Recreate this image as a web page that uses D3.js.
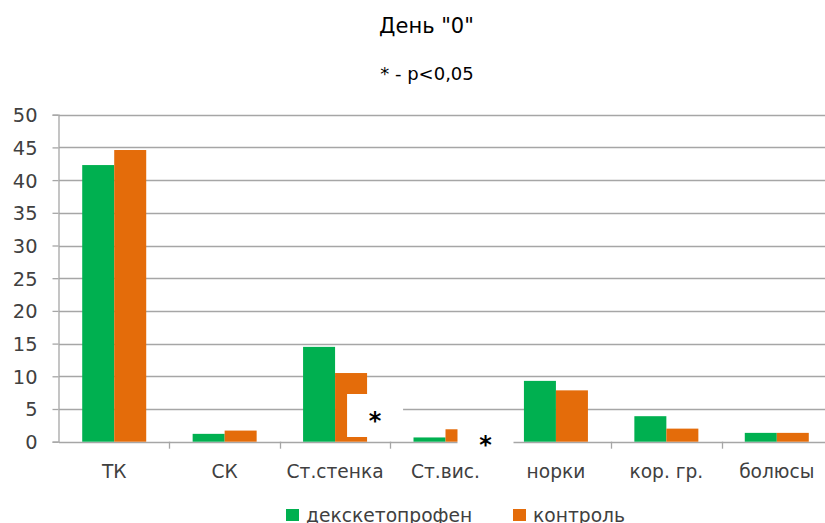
<!DOCTYPE html>
<html>
<head>
<meta charset="utf-8">
<script src="https://cdn.jsdelivr.net/npm/d3@7"></script>
<style>
  html, body { margin: 0; padding: 0; background: #fff; }
  svg { display: block; font-family: "DejaVu Sans", Verdana, sans-serif; }
</style>
</head>
<body>
<svg id="chart" width="825" height="523"></svg>
<script>
// Categories along the x axis
const categories = ["ТК", "СК", "Ст.стенка", "Ст.вис.", "норки", "кор. гр.", "болюсы"];
// Series names and values
const seriesNames = ["декскетопрофен", "контроль"];
const dexketoprofen = [42.3, 1.2, 14.5, 0.65, 9.3, 3.9, 1.35];
const control = [44.6, 1.7, 10.5, 1.9, 7.85, 2.0, 1.35];
const seriesColors = ["#00B050", "#E46C0A"];
// Y axis ticks
const yTicks = [0, 5, 10, 15, 20, 25, 30, 35, 40, 45, 50];
// Significance marks (p<0,05): category and level on the value axis
const sigMarks = [
  { category: "Ст.стенка", level: 3.7 },
  { category: "Ст.вис.", level: 0 }
];

const title = 'День "0"';
const subtitle = "* - p<0,05";

const svg = d3.select("#chart");

const x = d3.scaleBand().domain(categories).range([59, 832]).paddingInner(0).paddingOuter(0);
const y = d3.scaleLinear().domain([0, 50]).range([441.7, 114.7]);
const barW = 32;
const xs = d3.scaleBand().domain(seriesNames).range([0, barW * 2]);
const groupOffset = (x.bandwidth() - barW * 2) / 2;

const gridColor = "#a6a6a6";
const labelColor = "#404040";

// Horizontal gridlines
svg.append("g")
  .selectAll("line")
  .data(yTicks)
  .join("line")
  .attr("x1", 59).attr("x2", 825)
  .attr("y1", d => Math.round(y(d)) + 0.5)
  .attr("y2", d => Math.round(y(d)) + 0.5)
  .attr("stroke", gridColor)
  .attr("stroke-width", 1.3);

// Y axis
const yAxis = svg.append("g")
  .attr("transform", "translate(58.5,0)")
  .call(d3.axisLeft(y).tickValues(yTicks).tickSize(6).tickPadding(15).tickFormat(d3.format("d")));
yAxis.select(".domain").attr("stroke", gridColor).attr("stroke-width", 1.3);
yAxis.selectAll(".tick line").attr("stroke", gridColor).attr("stroke-width", 1.3);
yAxis.selectAll(".tick text")
  .attr("fill", labelColor)
  .attr("dy", "0.36em")
  .style("font-size", "19.4px")
  .style("font-family", "'DejaVu Sans', sans-serif");

// X axis (category labels)
const xAxis = svg.append("g")
  .attr("transform", `translate(0,${Math.round(y(0)) + 0.5})`)
  .call(d3.axisBottom(x).tickSize(0).tickPadding(0));
xAxis.select(".domain").remove();
xAxis.selectAll(".tick text")
  .attr("y", 35)
  .attr("dy", 0)
  .attr("fill", labelColor)
  .style("font-size", "18.6px")
  .style("font-family", "'DejaVu Sans', sans-serif");
// Category separator ticks
svg.append("g")
  .selectAll("line")
  .data(categories.slice(1))
  .join("line")
  .attr("x1", d => Math.round(x(d)) + 0.5)
  .attr("x2", d => Math.round(x(d)) + 0.5)
  .attr("y1", y(0)).attr("y2", y(0) + 7)
  .attr("stroke", gridColor).attr("stroke-width", 1.3);

// Bars
const rows = categories.map((c, i) => ({ category: c, values: [dexketoprofen[i], control[i]] }));
const groups = svg.append("g")
  .selectAll("g")
  .data(rows)
  .join("g")
  .attr("transform", d => `translate(${x(d.category) + groupOffset},0)`);
groups.selectAll("rect")
  .data(d => d.values.map((v, j) => ({ name: seriesNames[j], value: v, color: seriesColors[j] })))
  .join("rect")
  .attr("x", d => xs(d.name))
  .attr("width", xs.bandwidth())
  .attr("y", d => y(d.value))
  .attr("height", d => y(0) - y(d.value))
  .attr("fill", d => d.color);

// Significance markers on white label boxes
const boxW = 56, boxH = 43;
const sig = svg.append("g")
  .selectAll("g")
  .data(sigMarks)
  .join("g")
  .attr("transform", d => `translate(${x(d.category) + x.bandwidth() / 2 + 40},${y(d.level)})`);
sig.append("rect")
  .attr("x", -boxW / 2).attr("y", -boxH / 2 - 2)
  .attr("width", boxW).attr("height", boxH)
  .attr("fill", "#fff");
sig.append("text")
  .attr("text-anchor", "middle")
  .attr("dy", "0.72em")
  .attr("y", -6)
  .style("font-size", "24px")
  .style("font-weight", "bold")
  .attr("fill", "#000")
  .text("*");

// Title and subtitle
svg.append("text")
  .attr("x", 426.5).attr("y", 33)
  .attr("text-anchor", "middle")
  .style("font-size", "21px")
  .attr("fill", "#000")
  .text(title);
svg.append("text")
  .attr("x", 427).attr("y", 80)
  .attr("text-anchor", "middle")
  .style("font-size", "18px")
  .attr("fill", "#000")
  .text(subtitle);

// Legend
const legend = svg.append("g")
  .selectAll("g")
  .data(seriesNames)
  .join("g")
  .attr("transform", (d, i) => `translate(${[286, 513][i]},509)`);
legend.append("rect")
  .attr("width", 13).attr("height", 12)
  .attr("fill", (d, i) => seriesColors[i]);
legend.append("text")
  .attr("x", 20).attr("y", 12.5)
  .style("font-size", "18.7px")
  .attr("fill", labelColor)
  .text(d => d);
</script>
</body>
</html>
